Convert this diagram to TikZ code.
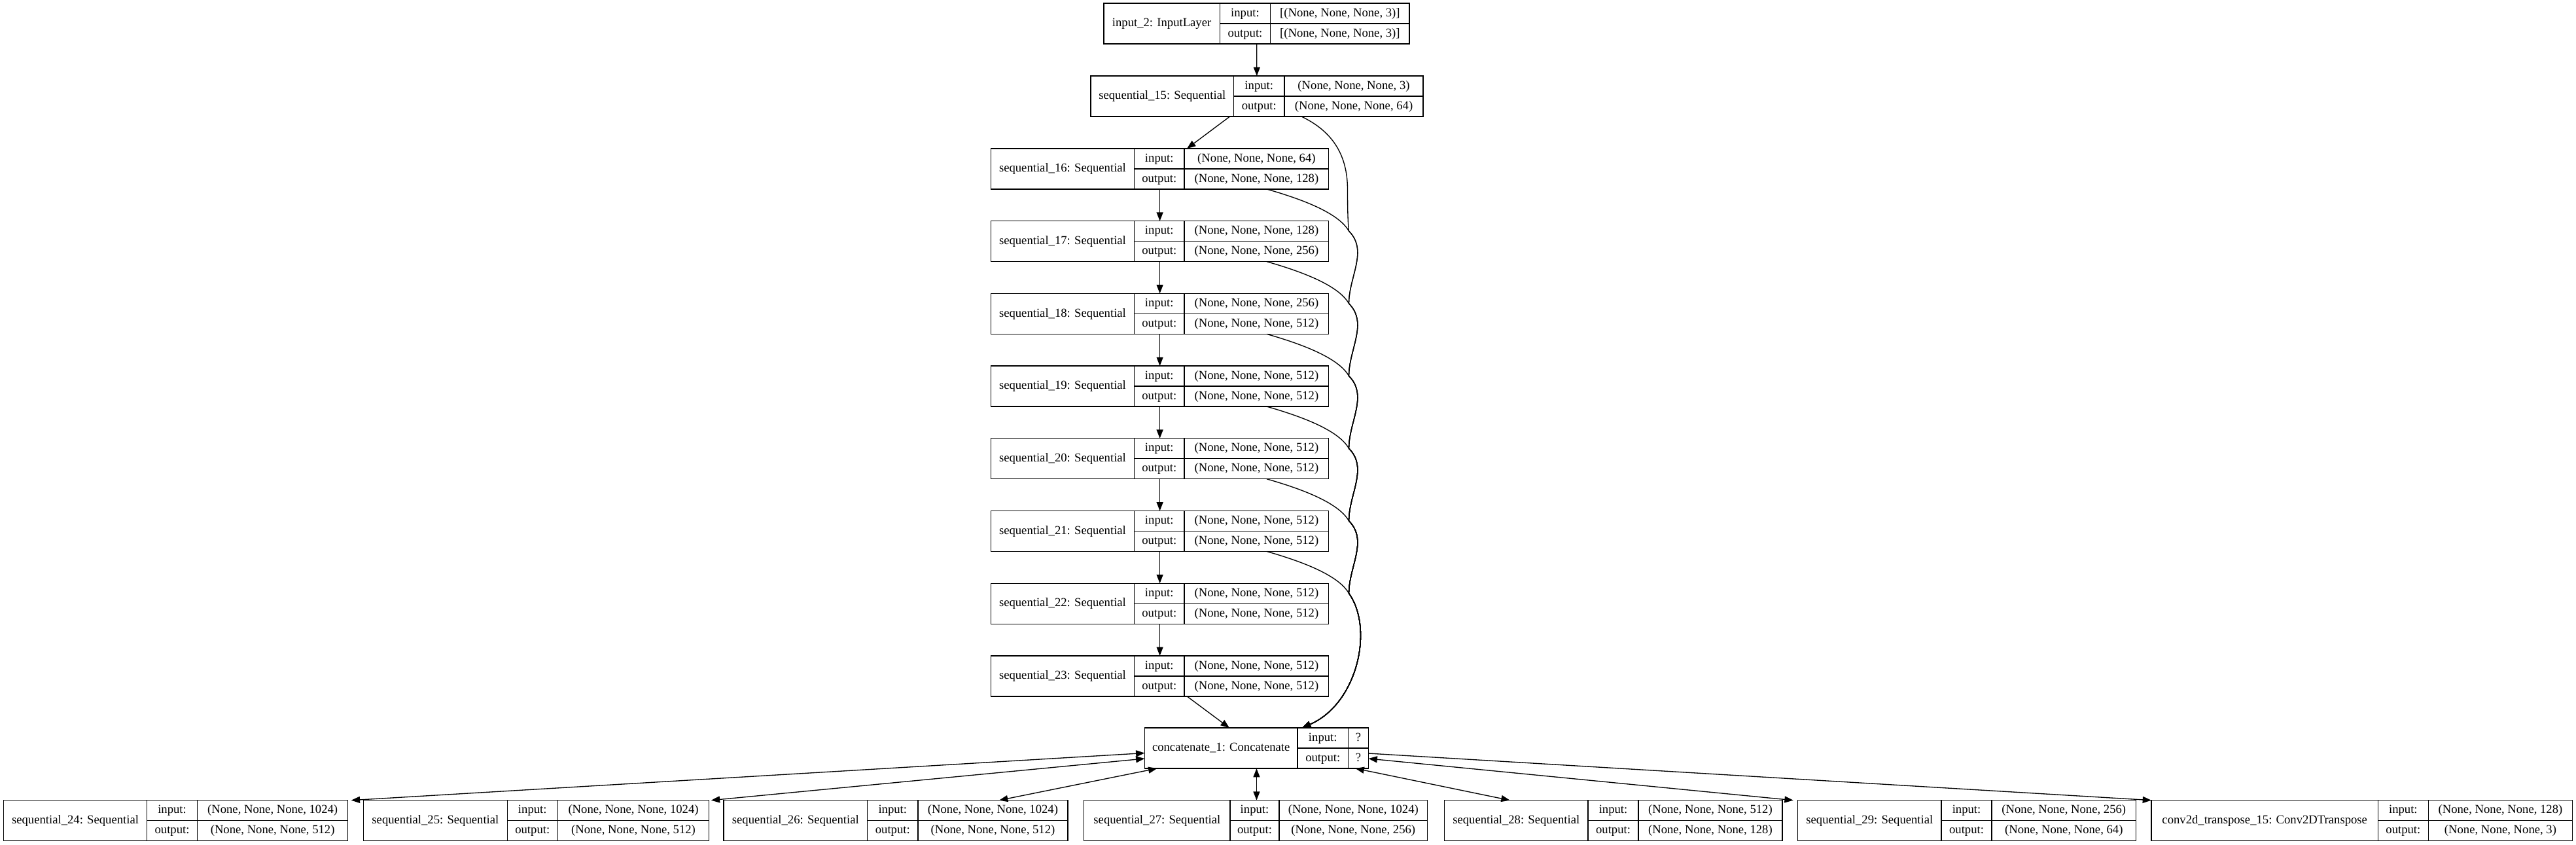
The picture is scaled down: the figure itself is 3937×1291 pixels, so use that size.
\documentclass[tikz,border=0pt]{standalone}
\usepackage{fontspec}
\setmainfont{Liberation Serif}
\usetikzlibrary{arrows.meta,calc}
\tikzset{
  lbox/.style={draw, line width=1pt, rectangle, inner sep=0pt, outer sep=0pt, minimum height=46.5pt},
  divl/.style={line width=1pt},
  txt/.style={inner sep=0pt, text height=10pt, text depth=3pt, font=\fontsize{14pt}{16pt}\selectfont},
  conn/.style={line width=1pt, -{Triangle[length=10pt,width=7.5pt]}},
  biconn/.style={line width=1pt, {Triangle[length=10pt,width=7.5pt]}-{Triangle[length=10pt,width=7.5pt]}}
}
% id, x0, x1, x2, x3, ytop, name, input shape, output shape
\newcommand{\nnlayer}[9]{%
  \node[lbox, anchor=north west, minimum width={(#5-#2)*0.75pt}] (#1) at (#2,#6) {};
  \draw[divl] (#3,#6) -- (#3,{#6+62});
  \draw[divl] (#4,#6) -- (#4,{#6+62});
  \draw[divl] (#3,{#6+31}) -- (#5,{#6+31});
  \node[txt] (#1-n) at ({(#2+#3)/2},{#6+31}) {#7};
  \node[txt] (#1-il) at ({(#3+#4)/2},{#6+15.5}) {input:};
  \node[txt] (#1-ol) at ({(#3+#4)/2},{#6+46.5}) {output:};
  \node[txt] (#1-iv) at ({(#4+#5)/2},{#6+15.5}) {#8};
  \node[txt] (#1-ov) at ({(#4+#5)/2},{#6+46.5}) {#9};
}
\begin{document}
\begin{tikzpicture}[x=0.75pt,y=-0.75pt]
\fill[white] (0,0) rectangle (3937,1291);
\useasboundingbox (0,0) rectangle (3937,1291);

\nnlayer{in2}{1687}{1864.2}{1941.7}{2154}{5}{input\_2: InputLayer}{[(None, None, None, 3)]}{[(None, None, None, 3)]}
\nnlayer{s15}{1667}{1885.5}{1963}{2175}{116}{sequential\_15: Sequential}{(None, None, None, 3)}{(None, None, None, 64)}
\nnlayer{s16}{1514.5}{1733.4}{1810.1}{2030.7}{227}{sequential\_16: Sequential}{(None, None, None, 64)}{(None, None, None, 128)}
\nnlayer{s17}{1514.5}{1733.4}{1810.1}{2030.7}{337.7}{sequential\_17: Sequential}{(None, None, None, 128)}{(None, None, None, 256)}
\nnlayer{s18}{1514.5}{1733.4}{1810.1}{2030.7}{448.4}{sequential\_18: Sequential}{(None, None, None, 256)}{(None, None, None, 512)}
\nnlayer{s19}{1514.5}{1733.4}{1810.1}{2030.7}{559.1}{sequential\_19: Sequential}{(None, None, None, 512)}{(None, None, None, 512)}
\nnlayer{s20}{1514.5}{1733.4}{1810.1}{2030.7}{669.8}{sequential\_20: Sequential}{(None, None, None, 512)}{(None, None, None, 512)}
\nnlayer{s21}{1514.5}{1733.4}{1810.1}{2030.7}{780.5}{sequential\_21: Sequential}{(None, None, None, 512)}{(None, None, None, 512)}
\nnlayer{s22}{1514.5}{1733.4}{1810.1}{2030.7}{891.2}{sequential\_22: Sequential}{(None, None, None, 512)}{(None, None, None, 512)}
\nnlayer{s23}{1514.5}{1733.4}{1810.1}{2030.7}{1001.9}{sequential\_23: Sequential}{(None, None, None, 512)}{(None, None, None, 512)}
\nnlayer{concat}{1749.4}{1983}{2060.5}{2091.5}{1112}{concatenate\_1: Concatenate}{?}{?}
\nnlayer{s24}{5.6}{224.5}{301.6}{531.7}{1222.7}{sequential\_24: Sequential}{(None, None, None, 1024)}{(None, None, None, 512)}
\nnlayer{s25}{555.6}{775.2}{852.3}{1083.8}{1222.7}{sequential\_25: Sequential}{(None, None, None, 1024)}{(None, None, None, 512)}
\nnlayer{s26}{1106}{1325.7}{1402.9}{1632}{1222.7}{sequential\_26: Sequential}{(None, None, None, 1024)}{(None, None, None, 512)}
\nnlayer{s27}{1656.8}{1880}{1955}{2181.6}{1222.7}{sequential\_27: Sequential}{(None, None, None, 1024)}{(None, None, None, 256)}
\nnlayer{s28}{2207.5}{2427}{2504}{2723.8}{1222.7}{sequential\_28: Sequential}{(None, None, None, 512)}{(None, None, None, 128)}
\nnlayer{s29}{2747.7}{2967}{3044}{3264.5}{1222.7}{sequential\_29: Sequential}{(None, None, None, 256)}{(None, None, None, 64)}
\nnlayer{ct15}{3288}{3634.4}{3711.3}{3931.6}{1222.7}{conv2d\_transpose\_15: Conv2DTranspose}{(None, None, None, 128)}{(None, None, None, 3)}

% main chain
\draw[conn] (in2) -- (s15);
\draw[conn] (s15) -- (s16);
\draw[conn] (s16) -- (s17);
\draw[conn] (s17) -- (s18);
\draw[conn] (s18) -- (s19);
\draw[conn] (s19) -- (s20);
\draw[conn] (s20) -- (s21);
\draw[conn] (s21) -- (s22);
\draw[conn] (s22) -- (s23);
\draw[conn] (s23) -- (concat);

% skip connections bundle
\coordinate (J16) at (2061.5,353);
\coordinate (J17) at (2061.5,463.7);
\coordinate (J18) at (2061.5,574.4);
\coordinate (J19) at (2061.5,685.1);
\coordinate (J20) at (2061.5,795.8);
\coordinate (J21) at (2061.5,906.5);
\coordinate (cin) at ($(concat.north west)+(240.6,0)$);

\draw[conn] ($(s15.south)+(68,0)$) .. controls (2035,200) and (2059.5,235) .. (2059.5,290) .. controls (2059.5,320) and (2060,340) .. (J16)
  .. controls (2091.5,383) and (2061.5,423) .. (J17)
  .. controls (2091.5,493.7) and (2061.5,533.7) .. (J18)
  .. controls (2091.5,604.4) and (2061.5,644.4) .. (J19)
  .. controls (2091.5,715.1) and (2061.5,755.1) .. (J20)
  .. controls (2091.5,825.8) and (2061.5,865.8) .. (J21)
  .. controls (2100,960) and (2075,1075) .. (cin);
\draw[conn] ($(s16.south)+(163.5,0)$) .. controls (1985,303) and (2045,324) .. (J16)
  .. controls (2091.5,383) and (2061.5,423) .. (J17)
  .. controls (2091.5,493.7) and (2061.5,533.7) .. (J18)
  .. controls (2091.5,604.4) and (2061.5,644.4) .. (J19)
  .. controls (2091.5,715.1) and (2061.5,755.1) .. (J20)
  .. controls (2091.5,825.8) and (2061.5,865.8) .. (J21)
  .. controls (2100,960) and (2075,1075) .. (cin);
\draw[conn] ($(s17.south)+(163.5,0)$) .. controls (1985,413.7) and (2045,434.7) .. (J17)
  .. controls (2091.5,493.7) and (2061.5,533.7) .. (J18)
  .. controls (2091.5,604.4) and (2061.5,644.4) .. (J19)
  .. controls (2091.5,715.1) and (2061.5,755.1) .. (J20)
  .. controls (2091.5,825.8) and (2061.5,865.8) .. (J21)
  .. controls (2100,960) and (2075,1075) .. (cin);
\draw[conn] ($(s18.south)+(163.5,0)$) .. controls (1985,524.4) and (2045,545.4) .. (J18)
  .. controls (2091.5,604.4) and (2061.5,644.4) .. (J19)
  .. controls (2091.5,715.1) and (2061.5,755.1) .. (J20)
  .. controls (2091.5,825.8) and (2061.5,865.8) .. (J21)
  .. controls (2100,960) and (2075,1075) .. (cin);
\draw[conn] ($(s19.south)+(163.5,0)$) .. controls (1985,635.1) and (2045,656.1) .. (J19)
  .. controls (2091.5,715.1) and (2061.5,755.1) .. (J20)
  .. controls (2091.5,825.8) and (2061.5,865.8) .. (J21)
  .. controls (2100,960) and (2075,1075) .. (cin);
\draw[conn] ($(s20.south)+(163.5,0)$) .. controls (1985,745.8) and (2045,766.8) .. (J20)
  .. controls (2091.5,825.8) and (2061.5,865.8) .. (J21)
  .. controls (2100,960) and (2075,1075) .. (cin);
\draw[conn] ($(s21.south)+(163.5,0)$) .. controls (1985,856.5) and (2045,877.5) .. (J21)
  .. controls (2100,960) and (2075,1075) .. (cin);

% decoder connections
\draw[biconn] ($(s24.north east)+(5,0)$) -- ($(concat.west)+(0,7.5)$);
\draw[biconn] ($(s25.north east)+(3,0)$) -- ($(concat.west)+(0,16)$);
\draw[biconn] ($(s26.north)+(158,0)$) -- ($(concat.south west)+(19,0)$);
\draw[biconn] (concat.south) -- (concat.south |- s27.north);
\draw[biconn] ($(s28.north)+(-158,0)$) -- ($(concat.south east)+(-20,0)$);
\draw[biconn] ($(s29.north west)+(-7,0)$) -- ($(concat.east)+(0,16)$);
\draw[conn] ($(concat.east)+(0,8)$) -- (ct15.north west);
\end{tikzpicture}
\end{document}
